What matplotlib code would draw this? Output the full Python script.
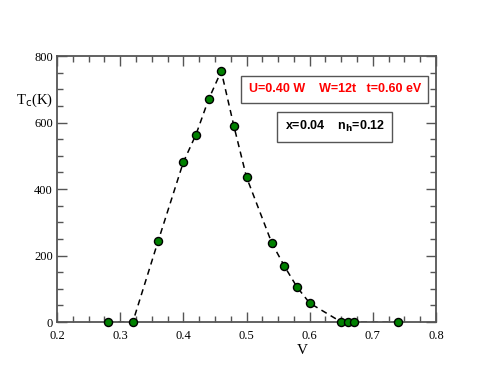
import numpy as np
import matplotlib.pyplot as plt
from matplotlib.ticker import MultipleLocator

# datos
V = [0.28, 0.32, 0.36, 0.40, 0.42, 0.44, 0.46, 0.48, 0.50, 0.54, 0.56, 0.58, 0.60, 0.65, 0.66, 0.67, 0.74]
Tc = [0, 0, 243, 481, 564, 670, 755, 590, 436, 238, 168, 105, 57, 0, 0, 0, 0]

serif = ['Liberation Serif', 'DejaVu Serif']
sans = ['Liberation Sans', 'DejaVu Sans']

fig = plt.figure(figsize=(4.94, 3.82), dpi=100)
ax = fig.add_axes([0.1154, 0.157, 0.7672, 0.696])

ax.plot(V, Tc, '--', color='black', lw=1.1, dashes=(4, 3), zorder=2)
ax.plot(V, Tc, 'o', ms=5.8, mfc='#008000', mec='black', mew=1.0, zorder=3, clip_on=False)

ax.set_xlim(0.2, 0.8)
ax.set_ylim(0, 800)
ax.xaxis.set_major_locator(MultipleLocator(0.1))
ax.xaxis.set_minor_locator(MultipleLocator(0.025))
ax.yaxis.set_major_locator(MultipleLocator(200))
ax.yaxis.set_minor_locator(MultipleLocator(50))
ax.tick_params(which='both', direction='in', top=True, right=True, color='#555555', width=1)
ax.tick_params(which='major', length=7, labelsize=9)
ax.tick_params(axis='x', which='major', pad=6)
ax.tick_params(axis='y', which='major', pad=3)
ax.tick_params(which='minor', length=4)
for lab in ax.get_xticklabels() + ax.get_yticklabels():
    lab.set_family(serif)
for s in ax.spines.values():
    s.set_color('#555555')
    s.set_linewidth(1.3)

fig.text(0.106, 0.738, r'T$_\mathrm{c}$(K)', family=serif, fontsize=10.5, ha='right', va='center')
fig.text(0.611, 0.083, 'V', family=serif, fontsize=11, ha='center', va='center')

ax.text(0.733, 0.875, 'U=0.40 W    W=12t   t=0.60 eV', transform=ax.transAxes, color='red',
        family=sans, fontweight='bold', fontsize=9, ha='center', va='center',
        bbox=dict(boxstyle='square,pad=0.6', fc='white', ec='#555555', lw=1))
ax.text(0.733, 0.735, r'x=0.04    n$_\mathbf{h}$=0.12', transform=ax.transAxes, color='black',
        family=sans, fontweight='bold', fontsize=9, ha='center', va='center',
        bbox=dict(boxstyle='square,pad=0.6', fc='white', ec='#555555', lw=1))

plt.savefig('out.png', dpi=100)
